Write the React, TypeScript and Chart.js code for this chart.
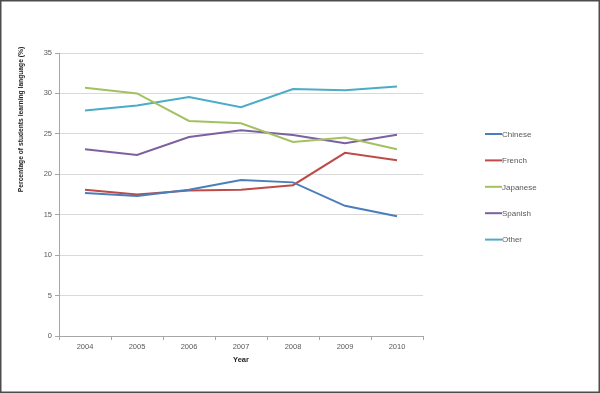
import React, { useEffect, useRef } from "react";
import { Chart, registerables } from "chart.js";

Chart.register(...registerables);

const years = ["2004", "2005", "2006", "2007", "2008", "2009", "2010"];
const chinese = [17.7, 17.3, 18.1, 19.3, 19.0, 16.1, 14.8];
const french = [18.1, 17.5, 18.0, 18.1, 18.65, 22.65, 21.75];
const japanese = [30.7, 30.0, 26.6, 26.3, 24.0, 24.55, 23.1];
const spanish = [23.1, 22.4, 24.6, 25.45, 24.85, 23.85, 24.9];
const other = [27.9, 28.5, 29.55, 28.3, 30.55, 30.4, 30.85];

const seriesNames = ["Chinese", "French", "Japanese", "Spanish", "Other"];
const seriesValues = [chinese, french, japanese, spanish, other];
const seriesColors = ["#4A7EBB", "#BE4B48", "#A3C15F", "#7D60A0", "#4BACC6"];

const yTitle = "Percentage of students learning language (%)";
const xTitle = "Year";

const FONT = "'Liberation Sans', Arial, sans-serif";
const TEXT = "#595959";

const framePlugin = {
  id: "frame",
  beforeDraw(chart: any) {
    const { ctx, width, height } = chart;
    ctx.save();
    ctx.fillStyle = "#ffffff";
    ctx.fillRect(0, 0, width, height);
    ctx.restore();
  },
  afterDraw(chart: any) {
    const { ctx, width, height } = chart;
    ctx.save();
    ctx.strokeStyle = "#4d4d4d";
    ctx.lineWidth = 1.5;
    ctx.strokeRect(0.75, 0.75, width - 1.5, height - 1.5);
    // y axis title
    ctx.translate(21, 119.5);
    ctx.rotate(-Math.PI / 2);
    ctx.font = `bold 6.7px ${FONT}`;
    ctx.fillStyle = "#262626";
    ctx.textAlign = "center";
    ctx.textBaseline = "middle";
    ctx.fillText(yTitle, 0, 0);
    ctx.restore();
  },
};

const legendPlugin = {
  id: "sideLegend",
  afterDraw(chart: any) {
    const { ctx } = chart;
    const x0 = 485;
    const y0 = 134;
    const step = 26.4;
    ctx.save();
    ctx.font = `8px ${FONT}`;
    ctx.textBaseline = "middle";
    ctx.textAlign = "left";
    chart.data.datasets.forEach((ds: any, i: number) => {
      const y = y0 + i * step;
      ctx.strokeStyle = ds.borderColor;
      ctx.lineWidth = 2;
      ctx.beginPath();
      ctx.moveTo(x0, y);
      ctx.lineTo(x0 + 17, y);
      ctx.stroke();
      ctx.fillStyle = TEXT;
      ctx.fillText(ds.label, x0 + 17, y + 0.5);
    });
    ctx.restore();
  },
};

export default function App() {
  const ref = useRef<HTMLCanvasElement | null>(null);

  useEffect(() => {
    if (!ref.current) return;
    const chart = new Chart(ref.current, {
      type: "line",
      data: {
        labels: years,
        datasets: seriesNames.map((name, i) => ({
          label: name,
          data: seriesValues[i],
          borderColor: seriesColors[i],
          backgroundColor: seriesColors[i],
          borderWidth: 2,
          pointRadius: 0,
          tension: 0,
          fill: false,
        })),
      },
      options: {
        animation: false,
        responsive: false,
        layout: { padding: { left: 0, top: 53, right: 177, bottom: 0 } },
        plugins: {
          legend: { display: false },
          tooltip: { enabled: false },
        },
        scales: {
          x: {
            offset: true,
            grid: {
              display: true,
              drawOnChartArea: false,
              offset: true,
              tickLength: 4,
              color: "#a6a6a6",
            },
            border: { color: "#a6a6a6" },
            ticks: {
              color: TEXT,
              font: { family: FONT, size: 7.5 },
              padding: 2,
              maxRotation: 0,
            },
            title: {
              display: true,
              text: xTitle,
              color: "#262626",
              font: { family: FONT, size: 7.5, weight: "bold" },
              padding: { top: 0, bottom: 29 },
            },
            afterFit: (s: any) => {
              s.height = 57;
            },
          },
          y: {
            min: 0,
            max: 35,
            ticks: {
              stepSize: 5,
              color: TEXT,
              font: { family: FONT, size: 7.5 },
              padding: 3,
            },
            grid: {
              color: "#d9d9d9",
              tickLength: 4,
              tickColor: "#a6a6a6",
            },
            border: { color: "#a6a6a6" },
            title: { display: false },
            afterFit: (s: any) => {
              s.width = 59;
            },
          },
        },
      },
      plugins: [framePlugin, legendPlugin],
    });
    return () => chart.destroy();
  }, []);

  return (
    <div style={{ position: "fixed", left: 0, top: 0, width: 600, height: 393 }}>
      <canvas ref={ref} width={600} height={393} style={{ display: "block" }} />
    </div>
  );
}
